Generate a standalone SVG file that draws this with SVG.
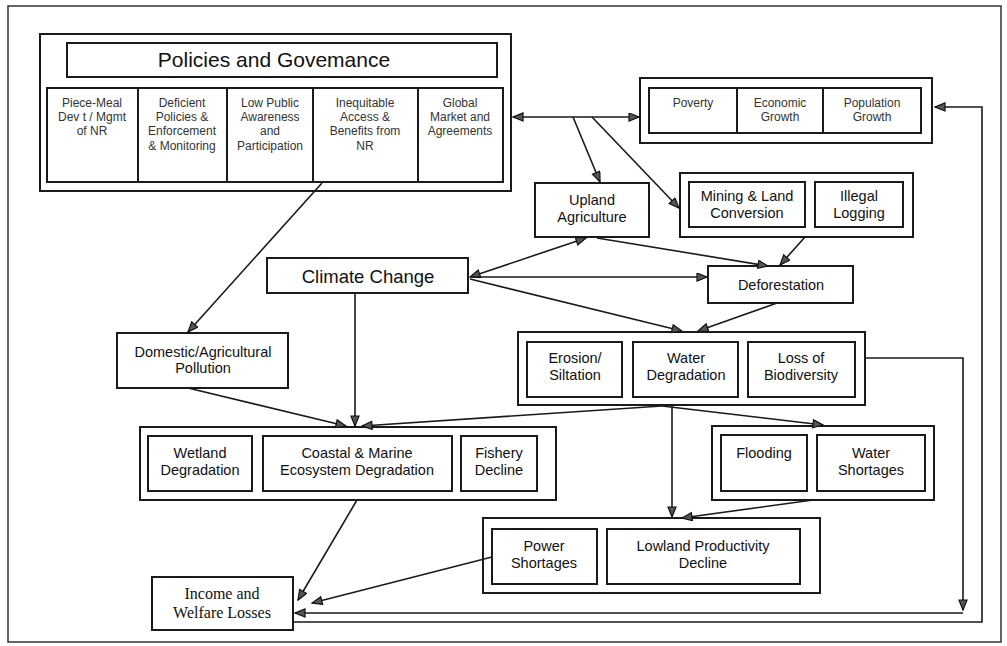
<svg xmlns="http://www.w3.org/2000/svg" width="1007" height="646" viewBox="0 0 1007 646">
<style>
.bx{fill:#fff;stroke:#1a1a1a;stroke-width:2}
.fr{fill:none;stroke:#333;stroke-width:1.5}
.t{font-family:"Liberation Sans",Arial,sans-serif;font-size:14.5px;fill:#111;text-anchor:middle}
.s{font-family:"Liberation Sans",Arial,sans-serif;font-size:12px;fill:#333;text-anchor:middle}
.r{font-family:"Liberation Serif","Times New Roman",serif;font-size:16px;fill:#111;text-anchor:middle}
.c{fill:none;stroke:#1a1a1a;stroke-width:1.6;marker-end:url(#ah)}
</style>
<defs>
<marker id="ah" markerUnits="userSpaceOnUse" markerWidth="12" markerHeight="10" refX="11" refY="4.5" orient="auto-start-reverse">
<path d="M1,0.5 L11,4.5 L1,8.5 z" fill="#555" stroke="#111" stroke-width="1.2"/>
</marker>
</defs>
<rect width="1007" height="646" fill="#fff"/>
<rect class="fr" x="8" y="6" width="993" height="636"/>

<g id="policies">
<rect class="bx" x="40" y="34" width="471" height="157"/>
<rect class="bx" x="67" y="43" width="430" height="34"/>
<text x="274" y="67" style="font-family:'Liberation Sans',Arial,sans-serif;font-size:21px;fill:#111;text-anchor:middle">Policies and Govemance</text>
<rect class="bx" x="47" y="88" width="91" height="94"/>
<rect class="bx" x="138" y="88" width="89" height="94"/>
<rect class="bx" x="227" y="88" width="86" height="94"/>
<rect class="bx" x="313" y="88" width="105" height="94"/>
<rect class="bx" x="418" y="88" width="85" height="94"/>
<text class="s" x="92" y="107">Piece-Meal</text><text class="s" x="92" y="121">Dev t / Mgmt</text><text class="s" x="92" y="135">of NR</text>
<text class="s" x="182" y="107">Deficient</text><text class="s" x="182" y="121">Policies &amp;</text><text class="s" x="182" y="135">Enforcement</text><text class="s" x="182" y="150">&amp; Monitoring</text>
<text class="s" x="270" y="107">Low Public</text><text class="s" x="270" y="121">Awareness</text><text class="s" x="270" y="135">and</text><text class="s" x="270" y="150">Participation</text>
<text class="s" x="365" y="107">Inequitable</text><text class="s" x="365" y="121">Access &amp;</text><text class="s" x="365" y="135">Benefits from</text><text class="s" x="365" y="150">NR</text>
<text class="s" x="460" y="107">Global</text><text class="s" x="460" y="121">Market and</text><text class="s" x="460" y="135">Agreements</text>
</g>

<g id="poverty">
<rect class="bx" x="640" y="78" width="292" height="65"/>
<rect class="bx" x="649" y="88" width="88" height="45"/>
<rect class="bx" x="737" y="88" width="86" height="45"/>
<rect class="bx" x="823" y="88" width="98" height="45"/>
<text class="s" x="693" y="107">Poverty</text>
<text class="s" x="780" y="107">Economic</text><text class="s" x="780" y="121">Growth</text>
<text class="s" x="872" y="107">Population</text><text class="s" x="872" y="121">Growth</text>
</g>

<g id="upland">
<rect class="bx" x="535" y="183" width="114" height="54"/>
<text class="t" x="592" y="205">Upland</text><text class="t" x="592" y="222">Agriculture</text>
</g>

<g id="mining">
<rect class="bx" x="680" y="173" width="233" height="64"/>
<rect class="bx" x="689" y="182" width="116" height="45"/>
<rect class="bx" x="815" y="182" width="88" height="45"/>
<text class="t" x="747" y="201">Mining &amp; Land</text><text class="t" x="747" y="218">Conversion</text>
<text class="t" x="859" y="201">Illegal</text><text class="t" x="859" y="218">Logging</text>
</g>

<g id="climate">
<rect class="bx" x="267" y="258" width="201" height="35"/>
<text x="368" y="283" style="font-family:'Liberation Sans',Arial,sans-serif;font-size:18.5px;fill:#111;text-anchor:middle">Climate Change</text>
</g>

<g id="deforestation">
<rect class="bx" x="708" y="266" width="145" height="37"/>
<text class="t" x="781" y="290">Deforestation</text>
</g>

<g id="pollution">
<rect class="bx" x="117" y="333" width="171" height="55"/>
<text class="t" x="203" y="357">Domestic/Agricultural</text><text class="t" x="203" y="373">Pollution</text>
</g>

<g id="erosion">
<rect class="bx" x="518" y="332" width="347" height="73"/>
<rect class="bx" x="527" y="342" width="95" height="55"/>
<rect class="bx" x="633" y="342" width="105" height="55"/>
<rect class="bx" x="748" y="342" width="107" height="55"/>
<text class="t" x="575" y="363">Erosion/</text><text class="t" x="575" y="380">Siltation</text>
<text class="t" x="686" y="363">Water</text><text class="t" x="686" y="380">Degradation</text>
<text class="t" x="801" y="363">Loss of</text><text class="t" x="801" y="380">Biodiversity</text>
</g>

<g id="wetland">
<rect class="bx" x="140" y="427" width="416" height="73"/>
<rect class="bx" x="148" y="436" width="104" height="55"/>
<rect class="bx" x="263" y="436" width="189" height="55"/>
<rect class="bx" x="461" y="436" width="76" height="55"/>
<text class="t" x="200" y="458">Wetland</text><text class="t" x="200" y="475">Degradation</text>
<text class="t" x="357" y="458">Coastal &amp; Marine</text><text class="t" x="357" y="475">Ecosystem Degradation</text>
<text class="t" x="499" y="458">Fishery</text><text class="t" x="499" y="475">Decline</text>
</g>

<g id="flooding">
<rect class="bx" x="712" y="426" width="222" height="74"/>
<rect class="bx" x="721" y="435" width="86" height="56"/>
<rect class="bx" x="817" y="435" width="108" height="56"/>
<text class="t" x="764" y="458">Flooding</text>
<text class="t" x="871" y="458">Water</text><text class="t" x="871" y="475">Shortages</text>
</g>

<g id="power">
<rect class="bx" x="483" y="518" width="337" height="75"/>
<rect class="bx" x="492" y="529" width="105" height="55"/>
<rect class="bx" x="607" y="529" width="193" height="55"/>
<text class="t" x="544" y="551">Power</text><text class="t" x="544" y="568">Shortages</text>
<text class="t" x="703" y="551">Lowland Productivity</text><text class="t" x="703" y="568">Decline</text>
</g>

<g id="income">
<rect class="bx" x="152" y="577" width="141" height="53"/>
<text class="r" x="222" y="599">Income and</text><text class="r" x="222" y="618">Welfare Losses</text>
</g>

<g id="connectors">
<line class="c" x1="513" y1="117" x2="639" y2="117" style="marker-start:url(#ah)"/>
<line class="c" x1="573" y1="117" x2="600" y2="182"/>
<line class="c" x1="592" y1="117" x2="679" y2="208"/>
<line class="c" x1="322" y1="183" x2="188" y2="332"/>
<line class="c" x1="470" y1="277" x2="586" y2="238" style="marker-start:url(#ah)"/>
<line class="c" x1="470" y1="277" x2="707" y2="277"/>
<line class="c" x1="470" y1="279" x2="682" y2="331"/>
<line class="c" x1="597" y1="238" x2="768" y2="266"/>
<line class="c" x1="805" y1="237" x2="780" y2="265"/>
<line class="c" x1="777" y1="303" x2="698" y2="331"/>
<line class="c" x1="355" y1="293" x2="355" y2="426"/>
<line class="c" x1="188" y1="388" x2="346" y2="426"/>
<line class="c" x1="662" y1="406" x2="362" y2="426"/>
<line class="c" x1="662" y1="406" x2="823" y2="425"/>
<line class="c" x1="672" y1="406" x2="672" y2="517"/>
<line class="c" x1="813" y1="500" x2="682" y2="518"/>
<line class="c" x1="357" y1="500" x2="298" y2="600"/>
<line class="c" x1="492" y1="557" x2="312" y2="603"/>
<polyline class="c" points="865,358 963,358 963,610"/>
<line class="c" x1="963" y1="613" x2="295" y2="613"/>
<polyline class="c" points="293,622 982,622 982,107 935,107"/>
</g>
</svg>
